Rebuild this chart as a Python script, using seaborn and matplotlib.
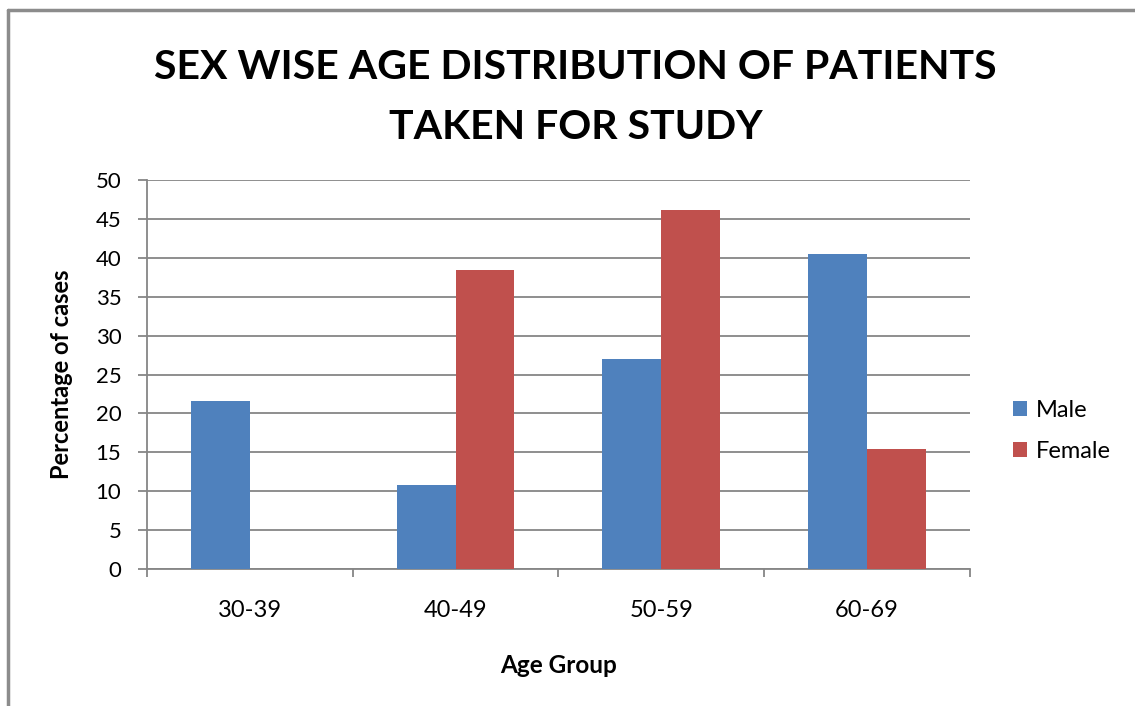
import pandas as pd
import seaborn as sns
import matplotlib.pyplot as plt
from matplotlib.lines import Line2D

# Chart values
age_groups = ['30-39', '40-49', '50-59', '60-69']
male = [21.6, 10.8, 27.0, 40.5]
female = [0, 38.5, 46.2, 15.4]

data = pd.DataFrame({
    'Age Group': age_groups * 2,
    'Percentage': male + female,
    'Sex': ['Male'] * 4 + ['Female'] * 4,
})

sns.set_style('white')
plt.rcParams['font.family'] = ['Lato', 'DejaVu Sans']
plt.rcParams['text.color'] = 'black'
plt.rcParams['xtick.color'] = 'black'
plt.rcParams['ytick.color'] = 'black'
plt.rcParams['axes.labelcolor'] = 'black'

fig = plt.figure(figsize=(11.35, 7.06), dpi=100)
ax = fig.add_axes([0.1295, 0.194, 0.725, 0.551])

grid_color = '#868686'
sns.barplot(data=data, x='Age Group', y='Percentage', hue='Sex',
            palette={'Male': '#4F81BD', 'Female': '#C0504D'},
            width=0.573, saturation=1, linewidth=0, ax=ax, zorder=3)

ax.set_ylim(0, 50)
ax.set_xlim(-0.5, 3.5)
ax.set_yticks(range(0, 51, 5))
ax.yaxis.grid(True, color=grid_color, linewidth=1.3, zorder=0)
ax.set_axisbelow(True)

for s in ['top', 'right']:
    ax.spines[s].set_visible(False)
for s in ['left', 'bottom']:
    ax.spines[s].set_color(grid_color)
    ax.spines[s].set_linewidth(1.3)

ax.tick_params(axis='y', left=True, direction='out', length=6.5, width=1.3,
               color=grid_color, labelsize=16, pad=12)
ax.tick_params(axis='x', which='major', length=0, labelsize=17, pad=22)
ax.set_xticks([-0.5, 0.5, 1.5, 2.5, 3.5], minor=True)
ax.tick_params(axis='x', which='minor', bottom=True, direction='out', length=6,
               width=1.3, color=grid_color)

ax.set_xlabel('Age Group', fontsize=17.5, fontweight='bold', labelpad=24)
ax.set_ylabel('Percentage of cases', fontsize=17, fontweight='bold', labelpad=16)

fig.text(0.507, 1 - 79 / 706, 'SEX WISE AGE DISTRIBUTION OF PATIENTS',
         ha='center', va='baseline', fontsize=29.5, fontweight='bold')
fig.text(0.507, 1 - 139 / 706, 'TAKEN FOR STUDY',
         ha='center', va='baseline', fontsize=29.5, fontweight='bold')

handles, labels = ax.get_legend_handles_labels()
ax.legend(handles, labels, loc='center left', bbox_to_anchor=(1013 / 1135, 1 - 431 / 706),
          bbox_transform=fig.transFigure, frameon=False, fontsize=17,
          handlelength=0.6, handleheight=0.6, handletextpad=0.35,
          labelspacing=0.85, borderpad=0, borderaxespad=0)

# outer chart frame (partially visible in the reference)
fig.add_artist(Line2D([8 / 1135, 8 / 1135], [0, 1 - 10 / 706],
                      transform=fig.transFigure, color='#8c8c8c', lw=2.5))
fig.add_artist(Line2D([8 / 1135, 1], [1 - 10 / 706, 1 - 10 / 706],
                      transform=fig.transFigure, color='#8c8c8c', lw=2.5))

plt.savefig('out.png', dpi=100)
